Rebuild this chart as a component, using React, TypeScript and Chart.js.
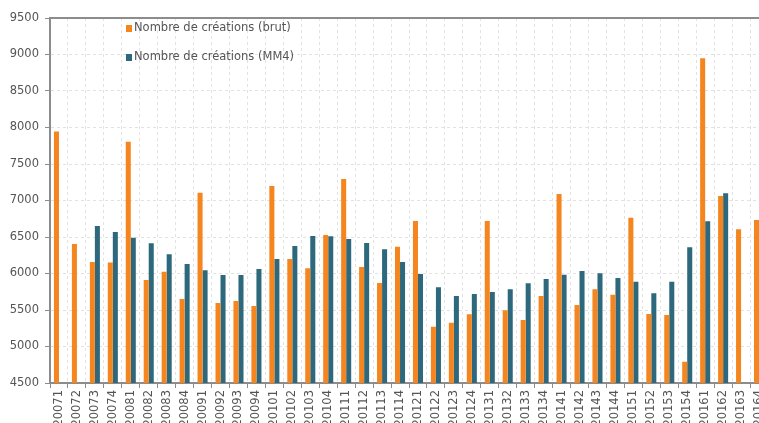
import React, { useEffect, useRef } from "react";
import { Chart, registerables } from "chart.js";

Chart.register(...registerables);

const categories = [
  "20071", "20072", "20073", "20074",
  "20081", "20082", "20083", "20084",
  "20091", "20092", "20093", "20094",
  "20101", "20102", "20103", "20104",
  "20111", "20112", "20113", "20114",
  "20121", "20122", "20123", "20124",
  "20131", "20132", "20133", "20134",
  "20141", "20142", "20143", "20144",
  "20151", "20152", "20153", "20154",
  "20161", "20162", "20163", "20164",
];

const brut = [
  7945, 6405, 6158, 6150,
  7805, 5912, 6025, 5651,
  7105, 5596, 5623, 5555,
  7198, 6199, 6071, 6527,
  7295, 6090, 5870, 6367,
  6719, 5272, 5327, 5441,
  6719, 5496, 5363, 5692,
  7089, 5568, 5783, 5710,
  6764, 5445, 5432, 4790,
  8948, 7062, 6605, 6733,
];

const mm4 = [
  null, null, 6651, 6568,
  6491, 6413, 6263, 6130,
  6044, 5980, 5980, 6062,
  6199, 6377, 6513, 6509,
  6473, 6418, 6331, 6158,
  5993, 5811, 5692, 5719,
  5747, 5783, 5866, 5925,
  5984, 6034, 6003, 5938,
  5888, 5728, 5888, 6359,
  6715, 7099, null, null,
];

const seriesLabels = ["Nombre de créations (brut)", "Nombre de créations (MM4)"];
const yTicks = [4500, 5000, 5500, 6000, 6500, 7000, 7500, 8000, 8500, 9000, 9500];

const ORANGE = "#F5851F";
const BLUE = "#2D687C";
const FONT = "'DejaVu Sans', sans-serif";

const framePlugin = {
  id: "frame",
  afterDatasetsDraw(chart: any) {
    const { ctx, chartArea } = chart;
    ctx.save();
    ctx.strokeStyle = "#8c8c8c";
    ctx.lineWidth = 2;
    ctx.beginPath();
    ctx.moveTo(chartArea.left, chartArea.top);
    ctx.lineTo(chartArea.right, chartArea.top);
    ctx.stroke();
    ctx.restore();
  },
  afterDraw(chart: any) {
    const { ctx } = chart;
    const items = chart.data.datasets;
    ctx.save();
    ctx.font = "11.5px " + FONT;
    ctx.textBaseline = "middle";
    ctx.textAlign = "left";
    const x0 = 126;
    const ys = [28, 57];
    items.forEach((ds: any, i: number) => {
      ctx.fillStyle = ds.backgroundColor;
      ctx.fillRect(x0, ys[i] - 3, 6, 7);
      ctx.fillStyle = "#555";
      ctx.fillText(ds.label, x0 + 8, ys[i] + 0.5);
    });
    ctx.restore();
  },
};

export default function App() {
  const ref = useRef<HTMLCanvasElement>(null);
  useEffect(() => {
    if (!ref.current) return;
    const chart = new Chart(ref.current, {
      type: "bar",
      data: {
        labels: categories,
        datasets: [
          { label: seriesLabels[0], data: brut, backgroundColor: ORANGE, categoryPercentage: 0.56, barPercentage: 1 },
          { label: seriesLabels[1], data: mm4 as any, backgroundColor: BLUE, categoryPercentage: 0.56, barPercentage: 1 },
        ],
      },
      options: {
        animation: false,
        responsive: false,
        devicePixelRatio: 1,
        layout: { padding: { top: 18, right: 22, left: 0, bottom: 0 } },
        plugins: { legend: { display: false }, tooltip: { enabled: false } },
        scales: {
          x: {
            offset: true,
            grid: {
              offset: true,
              color: "#e2e2e2",
              tickColor: "#8c8c8c",
              tickLength: 5,
              tickBorderDash: [],
              tickWidth: 1,
            } as any,
            border: { display: true, color: "#8c8c8c", width: 2, dash: [3, 3] } as any,
            ticks: {
              color: "#555",
              font: { family: FONT, size: 11.5 },
              minRotation: 90,
              maxRotation: 90,
              autoSkip: false,
              padding: 2,
            },
            afterFit(scale: any) {
              scale.height = 47;
            },
          },
          y: {
            min: 4500,
            max: 9500,
            afterBuildTicks(scale: any) {
              scale.ticks = yTicks.map((v) => ({ value: v }));
            },
            grid: {
              color: "#e2e2e2",
              tickColor: "#8c8c8c",
              tickLength: 5,
              tickBorderDash: [],
              tickWidth: 1,
            } as any,
            border: { display: true, color: "#8c8c8c", width: 2, dash: [3, 3] } as any,
            ticks: {
              color: "#555",
              font: { family: FONT, size: 11.5 },
              padding: 6,
              callback: (v: any) => String(v),
            },
            afterFit(scale: any) {
              scale.width = 50;
            },
          },
        },
      },
      plugins: [framePlugin],
    });
    return () => chart.destroy();
  }, []);
  return (
    <div style={{ position: "fixed", left: 0, top: 0, width: 759, height: 423, overflow: "hidden", background: "#fff" }}>
      <canvas ref={ref} width={790} height={430} style={{ display: "block" }} />
    </div>
  );
}
